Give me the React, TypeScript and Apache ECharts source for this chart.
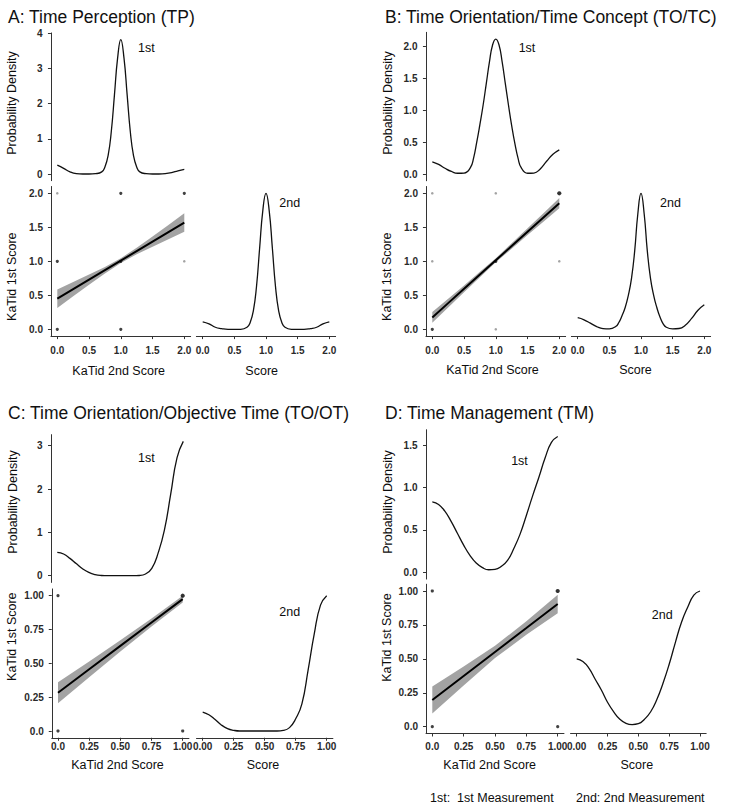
import { useEffect, useRef } from "react";
import * as echarts from "echarts";

type Pt = [number, number];
type Pt3 = [number, number, number];

const FONT = "'Liberation Sans', Arial, Helvetica, sans-serif";
const INK = "#0d0d0d";
const AXIS = "#333333";
const BAND = "#a3a3a3";

// ---------- A: Time Perception (TP) ----------
const tpDensity1st: Pt[] = [
  [0, 0.25], [0.1, 0.16], [0.2, 0.06], [0.3, 0.01], [0.4, 0], [0.5, 0], [0.6, 0.01],
  [0.7, 0.06], [0.75, 0.2], [0.8, 0.52], [0.85, 1.2], [0.9, 2.25], [0.95, 3.3], [1, 3.82],
  [1.05, 3.3], [1.1, 2.25], [1.15, 1.2], [1.2, 0.52], [1.25, 0.2], [1.3, 0.06], [1.4, 0.01],
  [1.5, 0], [1.6, 0], [1.7, 0.01], [1.8, 0.04], [1.9, 0.09], [2, 0.13],
];
const tpDensity2nd: Pt[] = [
  [0, 0.11], [0.1, 0.08], [0.2, 0.03], [0.3, 0.01], [0.4, 0], [0.5, 0], [0.6, 0],
  [0.7, 0.03], [0.75, 0.1], [0.8, 0.27], [0.85, 0.63], [0.9, 1.2], [0.95, 1.75], [1, 2.0],
  [1.05, 1.75], [1.1, 1.2], [1.15, 0.63], [1.2, 0.27], [1.25, 0.1], [1.3, 0.03], [1.4, 0],
  [1.5, 0], [1.6, 0], [1.7, 0.01], [1.8, 0.03], [1.9, 0.08], [2, 0.11],
];
// [2nd score, 1st score, frequency level]
const tpPoints: Pt3[] = [
  [0, 0, 2], [1, 0, 2], [0, 1, 2], [1, 1, 2], [2, 1, 1], [0, 2, 1], [1, 2, 2], [2, 2, 2],
];
const tpFitX = [0, 0.25, 0.5, 0.75, 1, 1.25, 1.5, 1.75, 2];
const tpFitY = [0.45, 0.59, 0.73, 0.87, 1.01, 1.15, 1.29, 1.43, 1.57];
const tpFitLow = [0.315, 0.485, 0.655, 0.822, 0.975, 1.102, 1.215, 1.325, 1.435];
const tpFitHigh = [0.585, 0.695, 0.805, 0.918, 1.045, 1.198, 1.365, 1.535, 1.705];
const tpDensityTicks = [0, 1, 2, 3, 4];
const tpDensityTickLabels = ["0", "1", "2", "3", "4"];
const tpScoreTicks = [0, 0.5, 1, 1.5, 2];
const tpScoreTickLabels = ["0.0", "0.5", "1.0", "1.5", "2.0"];

// ---------- B: Time Orientation/Time Concept (TO/TC) ----------
const tcDensity1st: Pt[] = [
  [0, 0.19], [0.1, 0.15], [0.2, 0.09], [0.3, 0.04], [0.4, 0.012], [0.5, 0.015], [0.6, 0.1],
  [0.65, 0.25], [0.7, 0.5], [0.75, 0.78], [0.8, 1.08], [0.85, 1.42], [0.9, 1.76], [0.95, 2.03],
  [1, 2.12], [1.05, 2.03], [1.1, 1.76], [1.15, 1.42], [1.2, 1.08], [1.25, 0.76], [1.3, 0.48],
  [1.35, 0.25], [1.4, 0.1], [1.5, 0.012], [1.6, 0.015], [1.7, 0.08], [1.8, 0.2], [1.9, 0.31], [2, 0.38],
];
const tcDensity2nd: Pt[] = [
  [0, 0.17], [0.1, 0.14], [0.2, 0.09], [0.3, 0.04], [0.4, 0.01], [0.5, 0.006], [0.6, 0.04],
  [0.65, 0.1], [0.7, 0.2], [0.75, 0.32], [0.8, 0.5], [0.85, 0.75], [0.9, 1.15], [0.95, 1.7],
  [1, 2.0], [1.05, 1.7], [1.1, 1.15], [1.15, 0.75], [1.2, 0.5], [1.25, 0.32], [1.3, 0.18],
  [1.35, 0.08], [1.4, 0.03], [1.5, 0.006], [1.6, 0.012], [1.7, 0.06], [1.8, 0.16], [1.9, 0.28], [2, 0.36],
];
const tcPoints: Pt3[] = [
  [0, 0, 2], [1, 0, 1], [0, 1, 1], [1, 1, 2], [2, 1, 1], [0, 2, 1], [1, 2, 1], [2, 2, 3],
];
const tcFitX = [0, 0.25, 0.5, 0.75, 1, 1.25, 1.5, 1.75, 2];
const tcFitY = [0.175, 0.385, 0.595, 0.805, 1.015, 1.225, 1.435, 1.645, 1.855];
const tcFitLow = [0.095, 0.32, 0.545, 0.765, 0.985, 1.185, 1.385, 1.583, 1.78];
const tcFitHigh = [0.255, 0.45, 0.645, 0.845, 1.045, 1.265, 1.485, 1.707, 1.93];
const tcDensityTicks = [0, 0.5, 1, 1.5, 2];
const tcDensityTickLabels = ["0.0", "0.5", "1.0", "1.5", "2.0"];
const tcScoreTicks = [0, 0.5, 1, 1.5, 2];
const tcScoreTickLabels = ["0.0", "0.5", "1.0", "1.5", "2.0"];

// ---------- C: Time Orientation/Objective Time (TO/OT) ----------
const otDensity1st: Pt[] = [
  [0, 0.54], [0.05, 0.5], [0.1, 0.4], [0.15, 0.28], [0.2, 0.16], [0.25, 0.075], [0.3, 0.025],
  [0.35, 0.005], [0.4, 0], [0.5, 0], [0.6, 0], [0.65, 0.005], [0.7, 0.04], [0.75, 0.17], [0.8, 0.52],
  [0.85, 1.05], [0.9, 1.88], [0.95, 2.72], [1, 3.1],
];
const otDensity2nd: Pt[] = [
  [0, 0.14], [0.05, 0.12], [0.1, 0.085], [0.15, 0.045], [0.2, 0.018], [0.25, 0.005], [0.3, 0],
  [0.4, 0], [0.5, 0], [0.6, 0], [0.65, 0.004], [0.7, 0.025], [0.75, 0.09], [0.8, 0.2],
  [0.85, 0.45], [0.9, 0.72], [0.95, 0.93], [1, 1.0],
];
const otPoints: Pt3[] = [[0, 0, 2], [1, 0, 2], [0, 1, 2], [1, 1, 3]];
const otFitX = [0, 0.25, 0.5, 0.75, 1];
const otFitY = [0.283, 0.456, 0.629, 0.802, 0.975];
const otFitLow = [0.205, 0.398, 0.587, 0.772, 0.95];
const otFitHigh = [0.361, 0.514, 0.671, 0.832, 1.0];
const otDensityTicks = [0, 1, 2, 3];
const otDensityTickLabels = ["0", "1", "2", "3"];
const otScoreTicks = [0, 0.25, 0.5, 0.75, 1];
const otScoreTickLabels = ["0.0", "0.25", "0.50", "0.75", "1.00"];
const otMarginTickLabels = ["0.00", "0.25", "0.50", "0.75", "1.00"];

// ---------- D: Time Management (TM) ----------
const tmDensity1st: Pt[] = [
  [0, 0.83], [0.05, 0.8], [0.1, 0.72], [0.15, 0.6], [0.2, 0.46], [0.25, 0.32], [0.3, 0.2],
  [0.35, 0.11], [0.4, 0.055], [0.45, 0.03], [0.5, 0.035], [0.55, 0.07], [0.6, 0.14], [0.65, 0.28],
  [0.7, 0.45], [0.75, 0.67], [0.8, 0.9], [0.85, 1.12], [0.9, 1.35], [0.95, 1.53], [1, 1.6],
];
const tmDensity2nd: Pt[] = [
  [0, 0.5], [0.05, 0.48], [0.1, 0.43], [0.15, 0.35], [0.2, 0.27], [0.25, 0.18], [0.3, 0.11],
  [0.35, 0.055], [0.4, 0.025], [0.45, 0.016], [0.5, 0.022], [0.55, 0.055], [0.6, 0.11],
  [0.65, 0.2], [0.7, 0.32], [0.75, 0.46], [0.8, 0.62], [0.85, 0.77], [0.9, 0.88], [0.95, 0.97], [1, 1.0],
];
const tmPoints: Pt3[] = [[0, 0, 2], [1, 0, 2], [0, 1, 2], [1, 1, 3]];
const tmFitX = [0, 0.25, 0.5, 0.75, 1];
const tmFitY = [0.197, 0.374, 0.551, 0.727, 0.904];
const tmFitLow = [0.097, 0.304, 0.506, 0.677, 0.836];
const tmFitHigh = [0.297, 0.444, 0.596, 0.777, 0.972];
const tmDensityTicks = [0, 0.5, 1, 1.5];
const tmDensityTickLabels = ["0.0", "0.5", "1.0", "1.5"];
const tmScoreTicks = [0, 0.25, 0.5, 0.75, 1];
const tmScoreTickLabels = ["0.0", "0.25", "0.50", "0.75", "1.00"];
const tmMarginTickLabels = ["0.00", "0.25", "0.50", "0.75", "1.00"];

const footerLabels = ["1st:  1st Measurement", "2nd: 2nd Measurement"];

// ---------- layout ----------
type GridSpec = {
  xp: [number, number]; xv: [number, number]; xr: [number, number];
  yp: [number, number]; yv: [number, number]; yr: [number, number];
};

const panels = [
  {
    title: "A: Time Perception (TP)",
    dens1st: tpDensity1st, dens2nd: tpDensity2nd, points: tpPoints,
    fit: { x: tpFitX, y: tpFitY, lo: tpFitLow, hi: tpFitHigh },
    densTicks: tpDensityTicks, densLabels: tpDensityTickLabels,
    scoreTicks: tpScoreTicks, scoreLabels: tpScoreTickLabels, sideLabels: tpScoreTickLabels,
    top: { xp: [57.3, 184.3], xv: [0, 2], xr: [-0.1, 2.1], yp: [174, 33.3], yv: [0, 4], yr: [-0.19, 4.01] } as GridSpec,
    scatter: { xp: [57.3, 184.3], xv: [0, 2], xr: [-0.1, 2.1], yp: [329.3, 193.3], yv: [0, 2], yr: [-0.1, 2.1] } as GridSpec,
    side: { xp: [202.7, 329.3], xv: [0, 2], xr: [-0.1, 2.1], yp: [329.3, 193.3], yv: [0, 2], yr: [-0.1, 2.1] } as GridSpec,
    xLabelMargin: 9,
    pos: { title: [8, 16.5], dens: [12, 103], yTitle: [11.5, 276.7], xTitle: [118.7, 370.7], score: [261.7, 370.7], first: [146.3, 48.3], second: [289.7, 203.3] },
  },
  {
    title: "B: Time Orientation/Time Concept (TO/TC)",
    dens1st: tcDensity1st, dens2nd: tcDensity2nd, points: tcPoints,
    fit: { x: tcFitX, y: tcFitY, lo: tcFitLow, hi: tcFitHigh },
    densTicks: tcDensityTicks, densLabels: tcDensityTickLabels,
    scoreTicks: tcScoreTicks, scoreLabels: tcScoreTickLabels, sideLabels: tcScoreTickLabels,
    top: { xp: [432.3, 559.3], xv: [0, 2], xr: [-0.1, 2.1], yp: [174, 46.7], yv: [0, 2], yr: [-0.106, 2.226] } as GridSpec,
    scatter: { xp: [432.3, 559.3], xv: [0, 2], xr: [-0.1, 2.1], yp: [329.3, 193.3], yv: [0, 2], yr: [-0.1, 2.1] } as GridSpec,
    side: { xp: [577.7, 704.3], xv: [0, 2], xr: [-0.1, 2.1], yp: [329.3, 193.3], yv: [0, 2], yr: [-0.1, 2.1] } as GridSpec,
    xLabelMargin: 9,
    pos: { title: [385, 16.5], dens: [387.5, 103], yTitle: [386.5, 276.7], xTitle: [492.5, 370.3], score: [635.5, 370.3], first: [527, 48.3], second: [670.5, 203.3] },
  },
  {
    title: "C: Time Orientation/Objective Time (TO/OT)",
    dens1st: otDensity1st, dens2nd: otDensity2nd, points: otPoints,
    fit: { x: otFitX, y: otFitY, lo: otFitLow, hi: otFitHigh },
    densTicks: otDensityTicks, densLabels: otDensityTickLabels,
    scoreTicks: otScoreTicks, scoreLabels: otScoreTickLabels, sideLabels: otMarginTickLabels,
    top: { xp: [57.3, 183.3], xv: [0, 1], xr: [-0.05, 1.05], yp: [575.7, 445.7], yv: [0, 3], yr: [-0.155, 3.255] } as GridSpec,
    scatter: { xp: [58, 182.7], xv: [0, 1], xr: [-0.05, 1.05], yp: [731, 595.7], yv: [0, 1], yr: [-0.05, 1.05] } as GridSpec,
    side: { xp: [202.7, 326.7], xv: [0, 1], xr: [-0.05, 1.05], yp: [731, 595.7], yv: [0, 1], yr: [-0.05, 1.05] } as GridSpec,
    xLabelMargin: 4,
    pos: { title: [8, 413], dens: [13, 502], yTitle: [12, 636.7], xTitle: [117.5, 765], score: [263, 765], first: [146.3, 457.7], second: [289.7, 611.7] },
  },
  {
    title: "D: Time Management (TM)",
    dens1st: tmDensity1st, dens2nd: tmDensity2nd, points: tmPoints,
    fit: { x: tmFitX, y: tmFitY, lo: tmFitLow, hi: tmFitHigh },
    densTicks: tmDensityTicks, densLabels: tmDensityTickLabels,
    scoreTicks: tmScoreTicks, scoreLabels: tmScoreTickLabels, sideLabels: tmMarginTickLabels,
    top: { xp: [432.3, 557.7], xv: [0, 1], xr: [-0.05, 1.05], yp: [572.3, 445], yv: [0, 1.5], yr: [-0.08, 1.68] } as GridSpec,
    scatter: { xp: [432.3, 557.7], xv: [0, 1], xr: [-0.05, 1.05], yp: [726.7, 591], yv: [0, 1], yr: [-0.05, 1.05] } as GridSpec,
    side: { xp: [576.7, 700], xv: [0, 1], xr: [-0.05, 1.05], yp: [726.7, 591], yv: [0, 1], yr: [-0.05, 1.05] } as GridSpec,
    xLabelMargin: 8,
    pos: { title: [385, 413], dens: [388, 502], yTitle: [387, 637.5], xTitle: [489.7, 765], score: [636.8, 765], first: [519.5, 460.7], second: [662.2, 615] },
  },
];

const footerPos: [number, number][] = [[430, 798.3], [576, 798.3]];

const POINT_SIZE = [0, 2.6, 3.2, 4.2];
const POINT_COLOR = ["#000", "#8c8c8c", "#111", "#000"];

function gridRect(g: GridSpec) {
  const sx = (g.xp[1] - g.xp[0]) / (g.xv[1] - g.xv[0]);
  const sy = (g.yp[0] - g.yp[1]) / (g.yv[1] - g.yv[0]);
  return {
    left: g.xp[0] + (g.xr[0] - g.xv[0]) * sx,
    width: (g.xr[1] - g.xr[0]) * sx,
    top: g.yp[0] - (g.yr[1] - g.yv[0]) * sy,
    height: (g.yr[1] - g.yr[0]) * sy,
  };
}

function axis(
  gridIndex: number, range: [number, number], visible: boolean,
  ticks?: number[], labels?: string[], margin = 8
) {
  return {
    type: "value", gridIndex, min: range[0], max: range[1],
    axisLine: { show: visible, onZero: false, lineStyle: { color: AXIS, width: 1 } },
    axisTick: { show: visible, length: 3, customValues: ticks, lineStyle: { color: AXIS, width: 1 } },
    axisLabel: {
      show: visible, customValues: ticks, margin,
      fontSize: 10, fontWeight: "bold", color: "#2a2a2a", fontFamily: FONT,
      formatter: (v: number) => {
        if (!ticks || !labels) return "";
        const i = ticks.findIndex((t) => Math.abs(t - v) < 1e-9);
        return i >= 0 ? labels[i] : "";
      },
    },
    splitLine: { show: false },
  };
}

function text(x: number, y: number, s: string, size: number, opts: any = {}) {
  return {
    type: "text", x, y, rotation: opts.rotation || 0, silent: true,
    style: {
      text: s, x: 0, y: 0, fill: opts.color || INK,
      fontSize: size, fontFamily: FONT, fontWeight: opts.weight || "normal",
      align: opts.align || "center", verticalAlign: "middle",
    },
  };
}

function buildOption() {
  const grid: any[] = [];
  const xAxis: any[] = [];
  const yAxis: any[] = [];
  const series: any[] = [];
  const graphic: any[] = [];

  panels.forEach((p) => {
    // marginal density of the 1st measurement
    const gTop = grid.length;
    grid.push({ ...gridRect(p.top), containLabel: false, outerBoundsMode: "none" });
    xAxis.push(axis(gTop, p.top.xr, false));
    yAxis.push(axis(gTop, p.top.yr, true, p.densTicks, p.densLabels, 8.5));
    series.push({
      type: "line", xAxisIndex: gTop, yAxisIndex: gTop, data: p.dens1st,
      smooth: 0.5, symbol: "none", silent: true,
      lineStyle: { color: "#111", width: 1.3 },
    });

    // scatter of 1st vs 2nd score with linear fit
    const gSc = grid.length;
    grid.push({ ...gridRect(p.scatter), containLabel: false, outerBoundsMode: "none" });
    xAxis.push(axis(gSc, p.scatter.xr, true, p.scoreTicks, p.scoreLabels, p.xLabelMargin));
    yAxis.push(axis(gSc, p.scatter.yr, true, p.scoreTicks, p.scoreLabels, 8));
    series.push({
      type: "scatter", xAxisIndex: gSc, yAxisIndex: gSc, data: p.points, silent: true,
      symbolSize: (v: number[]) => POINT_SIZE[v[2]],
      itemStyle: { color: (d: any) => POINT_COLOR[d.value[2]] },
    });
    const fit = p.fit;
    series.push({
      type: "custom", xAxisIndex: gSc, yAxisIndex: gSc, silent: true,
      data: [[fit.x[0], fit.y[0]]],
      renderItem: (_params: any, api: any) => {
        const pts: number[][] = [];
        fit.x.forEach((x, i) => pts.push(api.coord([x, fit.hi[i]])));
        for (let i = fit.x.length - 1; i >= 0; i--) pts.push(api.coord([fit.x[i], fit.lo[i]]));
        return { type: "polygon", shape: { points: pts }, style: { fill: BAND } };
      },
    });
    series.push({
      type: "line", xAxisIndex: gSc, yAxisIndex: gSc, silent: true,
      data: fit.x.map((x, i) => [x, fit.y[i]]),
      symbol: "none", lineStyle: { color: "#000", width: 2 },
    });

    // marginal density of the 2nd measurement
    const gSide = grid.length;
    grid.push({ ...gridRect(p.side), containLabel: false, outerBoundsMode: "none" });
    xAxis.push(axis(gSide, p.side.xr, true, p.scoreTicks, p.sideLabels, p.xLabelMargin));
    yAxis.push(axis(gSide, p.side.yr, false));
    series.push({
      type: "line", xAxisIndex: gSide, yAxisIndex: gSide, data: p.dens2nd,
      smooth: 0.5, symbol: "none", silent: true,
      lineStyle: { color: "#111", width: 1.3 },
    });

    const pos = p.pos;
    graphic.push(text(pos.title[0], pos.title[1], p.title, 17.5, { align: "left", color: "#111" }));
    graphic.push(text(pos.dens[0], pos.dens[1], "Probability Density", 12.5, { rotation: Math.PI / 2 }));
    graphic.push(text(pos.yTitle[0], pos.yTitle[1], "KaTid 1st Score", 12.5, { rotation: Math.PI / 2 }));
    graphic.push(text(pos.xTitle[0], pos.xTitle[1], "KaTid 2nd Score", 12.5));
    graphic.push(text(pos.score[0], pos.score[1], "Score", 12.5));
    graphic.push(text(pos.first[0], pos.first[1], "1st", 12.5));
    graphic.push(text(pos.second[0], pos.second[1], "2nd", 12.5));
  });

  footerLabels.forEach((s, i) => {
    graphic.push(text(footerPos[i][0], footerPos[i][1], s, 12.5, { align: "left" }));
  });

  return {
    animation: false,
    backgroundColor: "#ffffff",
    grid, xAxis, yAxis, series, graphic,
  };
}

export default function App() {
  const ref = useRef<HTMLDivElement>(null);
  useEffect(() => {
    if (!ref.current) return;
    const chart = echarts.init(ref.current, undefined, { renderer: "svg", width: 750, height: 811 });
    chart.setOption(buildOption() as any);
    return () => chart.dispose();
  }, []);
  return (
    <div
      ref={ref}
      style={{ position: "absolute", left: 0, top: 0, width: 750, height: 811, background: "#fff" }}
    />
  );
}
